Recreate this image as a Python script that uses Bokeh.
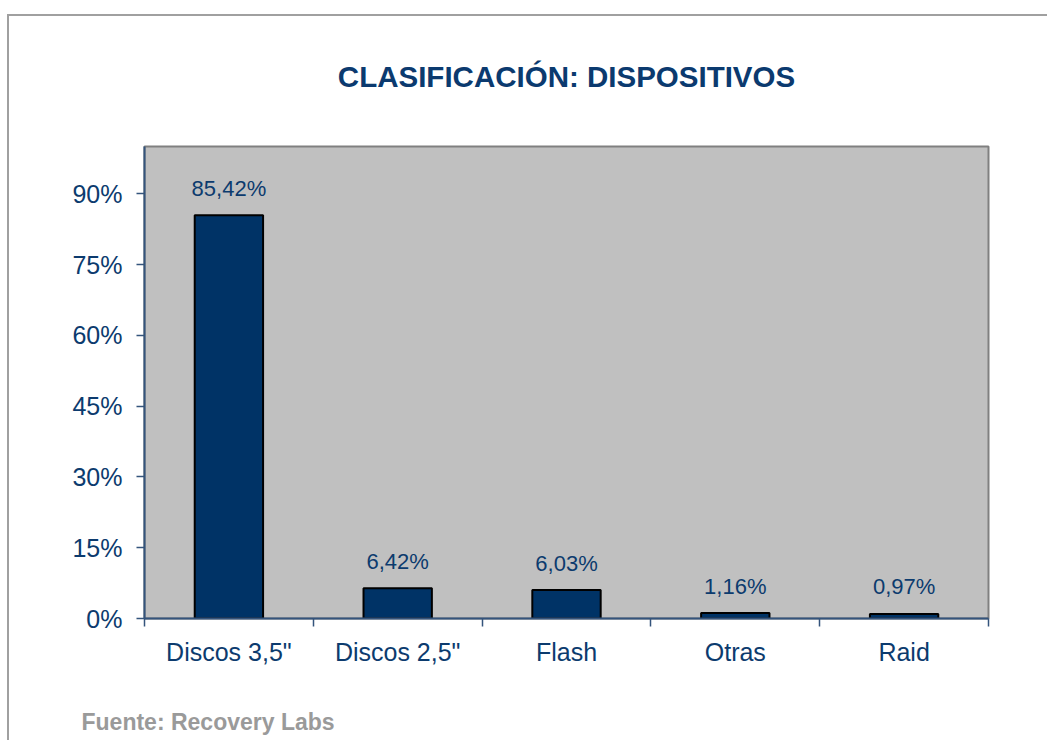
from bokeh.plotting import figure
from bokeh.models import Range1d, FixedTicker, PrintfTickFormatter, Title, ColumnDataSource
from bokeh.core.properties import value
from bokeh.embed import file_html
from bokeh.resources import INLINE

# ---- data ----
categories = ['Discos 3,5"', 'Discos 2,5"', 'Flash', 'Otras', 'Raid']
shares = [85.42, 6.42, 6.03, 1.16, 0.97]
y_ticks = [0, 15, 30, 45, 60, 75, 90]
title_text = "CLASIFICACIÓN: DISPOSITIVOS"
source_text = "Fuente: Recovery Labs"

FONT = "Liberation Sans"
NAVY = "#0c3b6e"
AXIS = "#34547c"

centers = [i + 0.5 for i in range(len(categories))]
bounds = [float(i) for i in range(len(categories) + 1)]
labels = [f"{v:.2f}".replace(".", ",") + "%" for v in shares]

src = ColumnDataSource(dict(x=centers, top=shares, label=labels))

p = figure(width=1040, height=726, output_backend="svg", toolbar_location=None,
           x_range=Range1d(0, len(categories)), y_range=Range1d(0, 100),
           min_border_left=135, min_border_right=61, min_border_top=130, min_border_bottom=124)
p.title_location = None

# outer frame of the chart (grey border at top and left, as in the reference)
p.styles = {"border-top": "2px solid #a0a0a0", "border-left": "2px solid #a0a0a0",
            "margin-left": "7px", "margin-top": "14px"}

p.background_fill_color = "#c0c0c0"
p.border_fill_color = "white"
p.outline_line_color = "#808080"
p.outline_line_width = 2
p.xgrid.visible = False
p.ygrid.visible = False

p.vbar(x="x", top="top", width=0.405, bottom=0, source=src,
       fill_color="#003366", line_color="black", line_width=2)

p.text(x="x", y="top", text="label", source=src, y_offset=-27,
       text_align="center", text_baseline="alphabetic",
       text_font=value(FONT), text_font_size="22px", text_color=NAVY)

# y axis
ya = p.yaxis[0]
ya.ticker = FixedTicker(ticks=y_ticks)
ya.formatter = PrintfTickFormatter(format="%d%%")
ya.major_tick_in = 0
ya.major_tick_out = 8
ya.minor_tick_line_color = None
ya.axis_line_color = AXIS
ya.axis_line_width = 2
ya.major_tick_line_color = AXIS
ya.major_tick_line_width = 1.5
ya.major_label_text_font = FONT
ya.major_label_text_font_size = "25px"
ya.major_label_text_color = NAVY
ya.major_label_standoff = 14

# x axis
xa = p.xaxis[0]
xa.ticker = FixedTicker(ticks=centers, minor_ticks=bounds)
xa.major_label_overrides = {c: name for c, name in zip(centers, categories)}
xa.major_tick_in = 0
xa.major_tick_out = 0
xa.major_tick_line_color = None
xa.minor_tick_in = 0
xa.minor_tick_out = 8
xa.minor_tick_line_color = AXIS
xa.minor_tick_line_width = 1.5
xa.axis_line_color = AXIS
xa.axis_line_width = 2
xa.major_label_text_font = FONT
xa.major_label_text_font_size = "25px"
xa.major_label_text_color = NAVY
xa.major_label_standoff = 11

# title (a blank spacer panel sits between the title and the plot area)
p.add_layout(Title(text=" ", text_font=FONT, text_font_size="29.5px", standoff=14), "above")
p.add_layout(Title(text=title_text, align="center", text_font=FONT, text_font_size="29.5px",
                   text_font_style="bold", text_color="#0b3a6f", standoff=10), "above")

# source note (with a blank spacer panel under the x axis)
p.add_layout(Title(text=" ", text_font=FONT, text_font_size="23px", standoff=5), "below")
p.add_layout(Title(text=source_text, align="left", offset=-63, standoff=10, text_font=FONT,
                   text_font_size="23px", text_font_style="bold", text_color="#9a9a9a"),
             "below")

open("out.html", "w").write(file_html(p, INLINE))
